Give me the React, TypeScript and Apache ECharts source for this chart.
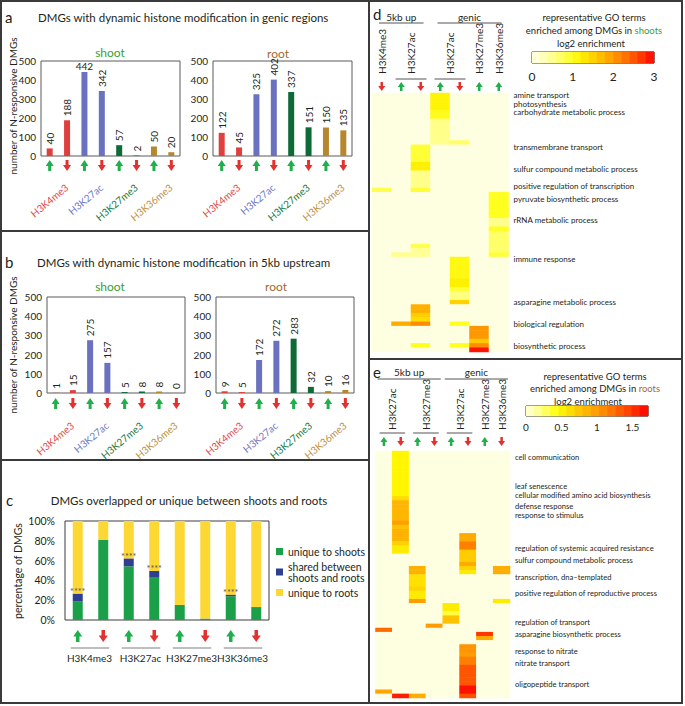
import React, { useEffect, useRef } from 'react';
import * as echarts from 'echarts';

const FONT = 'Lato, "Noto Sans", "DejaVu Sans", sans-serif';
const INK = '#231f20';
const FRAME = '#3a3a3a';
const ARROW_UP = '#20b04b';
const ARROW_DOWN = '#e2312e';

// ---------------- panels a & b : DMG counts ----------------
const marks = ['H3K4me3', 'H3K27ac', 'H3K27me3', 'H3K36me3'];
const markBarColors = ['#df3f3d', '#6a71bf', '#0e6b37', '#b7872f'];
const markTextColors = ['#e24c4a', '#6f78c6', '#1a7a43', '#c0913f'];
const slots = ['H3K4me3 up', 'H3K4me3 down', 'H3K27ac up', 'H3K27ac down', 'H3K27me3 up', 'H3K27me3 down', 'H3K36me3 up', 'H3K36me3 down'];
const slotDirs = ['up', 'down', 'up', 'down', 'up', 'down', 'up', 'down'];
const genicShoot = [40, 188, 442, 342, 57, 2, 50, 20];
const genicRoot = [122, 45, 325, 402, 337, 151, 150, 135];
const upstreamShoot = [1, 15, 275, 157, 5, 8, 8, 0];
const upstreamRoot = [9, 5, 172, 272, 283, 32, 10, 16];
const countMax = 500;
const countStep = 100;

// ---------------- panel c : overlap percentages ----------------
const uniqueToShoots = [18.6, 80.8, 54.2, 42.7, 15.2, 1.4, 24.0, 12.2];
const sharedShootsRoots = [7.8, 0, 7.8, 6.8, 0, 0, 1.4, 0.7];
const uniqueToRoots = [73.6, 19.2, 38.0, 50.5, 84.8, 98.6, 74.6, 87.1];
const significant = [true, false, true, true, false, false, true, false];
const pctMax = 100;
const pctStep = 20;

// ---------------- panel d : GO enrichment, shoots ----------------
const shootColumns = ['5kb H3K4me3 down', '5kb H3K27ac up', '5kb H3K27ac down', 'genic H3K27ac up', 'genic H3K27ac down', 'genic H3K27me3 up', 'genic H3K36me3 up'];
const shootColumnDirs = ['down', 'up', 'down', 'up', 'down', 'up', 'up'];
const shootHeaders = ['H3K4me3', 'H3K27ac', 'H3K27ac', 'H3K27me3', 'H3K36me3'];
const shootHeaderSpans = [[0, 0], [1, 2], [3, 4], [5, 5], [6, 6]];
const shootGroups = ['5kb up', 'genic'];
const shootGroupSpans = [[0, 2], [3, 6]];
const shootTerms = ['amine transport', 'photosynthesis', 'carbohydrate metabolic process', 'transmembrane transport', 'sulfur compound metabolic process', 'positive regulation of transcription', 'pyruvate biosynthetic process', 'rRNA metabolic process', 'immune response', 'asparagine metabolic process', 'biological regulation', 'biosynthetic process'];
const shootTermRows = [0, 2, 4, 12, 17, 21, 24, 29, 38, 48, 53, 58];
const shootRowCount = 60;
// [column, first row, last row, log2 enrichment]
const shootCells = [
  [0, 22, 22, 0.8],
  [1, 37, 37, 0.55], [1, 53, 53, 1.85],
  [2, 12, 15, 0.9], [2, 16, 17, 1.2], [2, 18, 21, 0.55], [2, 22, 22, 0.9], [2, 35, 35, 0.8], [2, 36, 37, 0.5],
  [2, 49, 50, 1.8], [2, 51, 51, 1.55], [2, 52, 52, 1.4], [2, 53, 53, 2.1], [2, 58, 58, 1.0],
  [3, 0, 3, 1.15], [3, 4, 5, 1.05], [3, 6, 11, 0.55],
  [4, 11, 11, 0.7], [4, 38, 42, 1.1], [4, 43, 44, 1.2], [4, 45, 45, 0.9], [4, 46, 47, 0.6], [4, 48, 48, 1.5], [4, 53, 53, 1.0], [4, 58, 58, 1.0],
  [5, 54, 56, 2.0], [5, 57, 57, 1.6], [5, 58, 58, 2.1], [5, 59, 59, 2.9],
  [6, 23, 28, 1.0], [6, 29, 30, 0.55], [6, 31, 31, 1.0], [6, 32, 36, 0.7], [6, 37, 37, 0.9],
];
const shootScaleMax = 3;
const shootScaleTick = 1;
const shootScaleColors = ['#fefee0', '#ffffd0', '#ffffa8', '#ffff80', '#ffff50', '#ffff20', '#fff000', '#ffdc00', '#ffc800', '#ffb000', '#ff9800', '#ff8000', '#ff6400', '#ff4800', '#ff2800', '#ff0000'];
const shootScaleSteps = [0.1, 0.3, 0.5, 0.7, 0.9, 1.1, 1.3, 1.5, 1.7, 1.9, 2.1, 2.3, 2.5, 2.7, 2.9];

// ---------------- panel e : GO enrichment, roots ----------------
const rootColumns = ['5kb H3K27ac up', '5kb H3K27ac down', '5kb H3K27me3 up', '5kb H3K27me3 down', 'genic H3K27ac up', 'genic H3K27ac down', 'genic H3K27me3 up', 'genic H3K36me3 down'];
const rootColumnDirs = ['up', 'down', 'up', 'down', 'up', 'down', 'up', 'down'];
const rootHeaders = ['H3K27ac', 'H3K27me3', 'H3K27ac', 'H3K27me3', 'H3K36me3'];
const rootHeaderSpans = [[0, 1], [2, 3], [4, 5], [6, 6], [7, 7]];
const rootGroups = ['5kb up', 'genic'];
const rootGroupSpans = [[0, 3], [4, 7]];
const rootTerms = ['cell communication', 'leaf senescence\ncellular modified amino acid biosynthesis', 'defense response\nresponse to stimulus', 'regulation of systemic acquired resistance', 'sulfur compound metabolic process', 'transcription, dna\u2013templated', 'positive regulation of reproductive process', 'regulation of transport', 'asparagine biosynthetic process', 'response to nitrate', 'nitrate transport', 'oligopeptide transport'];
const rootTermRows = [1, 9, 14, 23, 26, 30, 34, 41, 44, 48, 51, 56];
const rootRowCount = 60;
const rootCells = [
  [0, 43, 43, 1.25], [0, 58, 58, 0.95],
  [1, 0, 10, 0.5], [1, 11, 11, 0.62], [1, 12, 16, 0.85], [1, 17, 17, 0.98], [1, 18, 18, 0.78], [1, 19, 21, 0.87], [1, 22, 22, 0.68], [1, 23, 24, 0.55], [1, 59, 59, 1.6],
  [2, 28, 29, 0.88], [2, 30, 32, 0.6], [2, 33, 33, 0.68], [2, 34, 35, 0.55], [2, 36, 36, 1.0], [2, 59, 59, 0.9],
  [3, 42, 42, 1.0],
  [4, 37, 38, 0.55], [4, 39, 39, 0.35], [4, 40, 41, 0.78],
  [5, 20, 21, 0.92], [5, 22, 23, 1.15], [5, 24, 26, 0.72], [5, 27, 27, 0.92], [5, 28, 28, 0.68], [5, 29, 29, 0.55],
  [5, 47, 48, 1.05], [5, 49, 49, 1.0], [5, 50, 51, 1.15], [5, 52, 56, 1.35], [5, 57, 58, 1.65], [5, 59, 59, 1.38],
  [6, 44, 44, 1.5], [6, 45, 45, 0.92],
  [7, 28, 29, 0.9], [7, 36, 36, 0.55],
];
const rootScaleMax = 1.72;
const rootScaleTick = 0.5;
const rootScaleColors = ['#fefee0', '#ffffb0', '#ffff80', '#ffff40', '#ffff00', '#ffe600', '#ffd200', '#ffbe00', '#ffaa00', '#ff9600', '#ff8000', '#ff6800', '#ff5000', '#ff3800', '#ff1c00', '#ff0000'];
const rootScaleSteps = [0.06, 0.17, 0.29, 0.4, 0.52, 0.63, 0.75, 0.86, 0.98, 1.09, 1.2, 1.32, 1.43, 1.55, 1.66];

// ---------------- helpers ----------------
function buildMatrix(nCols: number, nRows: number, cells: number[][]) {
  const grid: number[][] = [];
  for (let c = 0; c < nCols; c++) {
    for (let r = 0; r < nRows; r++) grid.push([c, r, 0]);
  }
  cells.forEach(([c, r0, r1, v]) => {
    for (let r = r0; r <= r1; r++) grid[c * nRows + r][2] = v;
  });
  return grid;
}

function rowLabels(terms: string[], rows: number[], n: number) {
  const arr: string[] = new Array(n).fill('');
  rows.forEach((r, i) => { arr[r] = terms[i]; });
  return arr;
}

function arrow(cx: number, top: number, w: number, h: number, headH: number, shaft: number, dir: string) {
  let pts: number[][];
  if (dir === 'up') {
    pts = [[cx, top], [cx + w / 2, top + headH], [cx + shaft / 2, top + headH], [cx + shaft / 2, top + h], [cx - shaft / 2, top + h], [cx - shaft / 2, top + headH], [cx - w / 2, top + headH]];
  } else {
    const b = top + h;
    pts = [[cx, b], [cx + w / 2, b - headH], [cx + shaft / 2, b - headH], [cx + shaft / 2, top], [cx - shaft / 2, top], [cx - shaft / 2, b - headH], [cx - w / 2, b - headH]];
  }
  return { type: 'polygon', shape: { points: pts }, style: { fill: dir === 'up' ? ARROW_UP : ARROW_DOWN } };
}

function txt(x: number, y: number, text: string, o: any = {}) {
  const align = o.align || 'left';
  const v = o.v || 'middle';
  return {
    type: 'text', x, y, rotation: o.rotation || 0, silent: true,
    style: {
      text, fill: o.color || INK, fontSize: o.size || 10, fontFamily: FONT,
      align, textAlign: align, verticalAlign: v, textVerticalAlign: v,
      rich: o.rich,
    },
  };
}

function hline(x1: number, x2: number, y: number, color = FRAME, lw = 2) {
  return { type: 'line', silent: true, shape: { x1, y1: y, x2, y2: y }, style: { stroke: color, lineWidth: lw } };
}
function vline(x: number, y1: number, y2: number, color = FRAME, lw = 2) {
  return { type: 'line', silent: true, shape: { x1: x, y1, x2: x, y2 }, style: { stroke: color, lineWidth: lw } };
}

// grids
const G = {
  aShoot: { left: 41, top: 61, width: 139, height: 95 },
  aRoot: { left: 213, top: 61, width: 139, height: 95 },
  bShoot: { left: 47, top: 297, width: 138, height: 96 },
  bRoot: { left: 216, top: 297, width: 138, height: 96 },
  c: { left: 65, top: 521, width: 204, height: 99 },
  d: { left: 372, top: 93, width: 136.5, height: 259 },
  e: { left: 375.5, top: 451, width: 134.5, height: 247 },
  dBar: { left: 532, top: 52, width: 122, height: 11 },
  eBar: { left: 526, top: 406, width: 122, height: 10 },
};

function countAxis(gi: number) {
  return {
    type: 'value', gridIndex: gi, min: 0, max: countMax, interval: countStep,
    axisLine: { show: false }, axisTick: { show: false }, splitLine: { show: false },
    axisLabel: { fontSize: 10, color: INK, margin: 5, fontFamily: FONT },
  };
}

function countSeries(gi: number, values: number[]) {
  return {
    type: 'bar', xAxisIndex: gi, yAxisIndex: gi, barWidth: 6, silent: true,
    data: values.map((v, i) => {
      const item: any = { value: v, itemStyle: { color: markBarColors[Math.floor(i / 2)] } };
      if (v > 420) item.label = { rotate: 0, align: 'center', verticalAlign: 'bottom', distance: 1 };
      return item;
    }),
    label: { show: true, position: 'top', rotate: 90, align: 'left', verticalAlign: 'middle', distance: 4, fontSize: 10, color: INK, fontFamily: FONT },
  };
}

function countAnnotations(gi: number, arrowGap: number) {
  return {
    type: 'custom', xAxisIndex: gi, yAxisIndex: gi, silent: true, z: 5,
    data: slotDirs.map((d, i) => [i, 0]),
    renderItem: (params: any, api: any) => {
      const i = params.dataIndex;
      const p = api.coord([api.value(0), 0]);
      const top = p[1] + arrowGap;
      const children: any[] = [arrow(p[0], top, 8, 11, 6, 3, slotDirs[i])];
      if (i % 2 === 1) {
        const q = api.coord([i - 1, 0]);
        const cx = (p[0] + q[0]) / 2;
        const m = (i - 1) / 2;
        children.push(txt(cx + 5, top + 22, marks[m], { color: markTextColors[m], size: 10, align: 'right', v: 'top', rotation: (40 * Math.PI) / 180 }));
      }
      return { type: 'group', children };
    },
  };
}

function pctAnnotations(gi: number) {
  return {
    type: 'custom', xAxisIndex: gi, yAxisIndex: gi, silent: true, z: 5,
    data: slotDirs.map((d, i) => [i, 0]),
    renderItem: (params: any, api: any) => {
      const i = params.dataIndex;
      const p = api.coord([api.value(0), 0]);
      const children: any[] = [arrow(p[0], p[1] + 10, 9, 12, 6.5, 3.5, slotDirs[i])];
      if (i % 2 === 1) {
        const q = api.coord([i - 1, 0]);
        const cx = (p[0] + q[0]) / 2;
        const y = p[1] + 28;
        children.push({ type: 'line', shape: { x1: q[0] - 7, y1: y, x2: p[0] + 6, y2: y }, style: { stroke: '#a8a8a8', lineWidth: 1.5 } });
        children.push(txt(cx - 1, y + 10, marks[(i - 1) / 2], { size: 10, align: 'center' }));
      }
      return { type: 'group', children };
    },
  };
}

function heatAnnotations(gi: number, nCols: number, dirs: string[], headers: string[], headerSpans: number[][], groups: string[], groupSpans: number[][], cfg: any) {
  return {
    type: 'custom', xAxisIndex: gi, yAxisIndex: gi, silent: true, z: 5,
    data: dirs.map((d, i) => [i, 0]),
    renderItem: (params: any, api: any) => {
      const i = params.dataIndex;
      const cs = params.coordSys;
      const cw = cs.width / nCols;
      const top = cs.y;
      const cx = api.coord([i, 0])[0];
      const children: any[] = [arrow(cx, top - cfg.arrowUp, 7, 9, 5, 2.5, dirs[i])];
      headerSpans.forEach((s, h) => {
        if (s[0] !== i) return;
        const x0 = api.coord([s[0], 0])[0];
        const x1 = api.coord([s[1], 0])[0];
        const mid = (x0 + x1) / 2;
        children.push(txt(mid, top - cfg.headerUp, headers[h], { size: 10, align: 'left', v: 'middle', rotation: Math.PI / 2 }));
        if (s[1] !== s[0]) {
          children.push({ type: 'line', shape: { x1: x0 - cw / 2 + 4, y1: top - cfg.bracketUp, x2: x1 + cw / 2 - 4, y2: top - cfg.bracketUp }, style: { stroke: '#555', lineWidth: 1 } });
        }
      });
      groupSpans.forEach((s, g) => {
        if (s[0] !== i) return;
        const x0 = api.coord([s[0], 0])[0] - cw / 2;
        const x1 = api.coord([s[1], 0])[0] + cw / 2;
        children.push(txt((x0 + x1) / 2, top - cfg.groupUp, groups[g], { size: 10, align: 'center' }));
        children.push({ type: 'line', shape: { x1: x0 + cfg.inset, y1: top - cfg.lineUp, x2: x1 - cfg.inset, y2: top - cfg.lineUp }, style: { stroke: '#555', lineWidth: 1 } });
      });
      return { type: 'group', children };
    },
  };
}

function buildOption() {
  const boxed = { show: true, borderColor: '#5a5a5a', borderWidth: 1, backgroundColor: 'transparent' };
  const grids = [
    { ...G.aShoot, ...boxed },
    { ...G.aRoot, ...boxed },
    { ...G.bShoot, ...boxed },
    { ...G.bRoot, ...boxed },
    { ...G.c, ...boxed, borderColor: '#3a3a3a' },
    { ...G.d, show: false },
    { ...G.e, show: false },
    { ...G.dBar, show: true, borderColor: '#000', borderWidth: 1 },
    { ...G.eBar, show: true, borderColor: '#000', borderWidth: 1 },
  ];
  const hiddenCat = (gi: number, data: any[]) => ({ type: 'category', gridIndex: gi, data, show: false });
  const xAxis = [
    hiddenCat(0, slots), hiddenCat(1, slots), hiddenCat(2, slots), hiddenCat(3, slots), hiddenCat(4, slots),
    hiddenCat(5, shootColumns), hiddenCat(6, rootColumns),
    hiddenCat(7, shootScaleSteps),
    {
      type: 'value', gridIndex: 7, min: 0, max: shootScaleMax, interval: shootScaleTick, position: 'bottom',
      axisLine: { show: false }, axisTick: { show: false }, splitLine: { show: false },
      axisLabel: { fontSize: 12, color: INK, margin: 7, fontFamily: FONT },
    },
    hiddenCat(8, rootScaleSteps),
    {
      type: 'value', gridIndex: 8, min: 0, max: rootScaleMax, interval: rootScaleTick, position: 'bottom',
      axisLine: { show: false }, axisTick: { show: false }, splitLine: { show: false },
      axisLabel: {
        fontSize: 10, color: INK, margin: 6, fontFamily: FONT,
        formatter: (v: number) => (Math.abs(v / rootScaleTick - Math.round(v / rootScaleTick)) < 1e-6 ? String(v) : ''),
      },
    },
  ];
  const rowAxis = (gi: number, data: string[], size: number, lh: number) => ({
    type: 'category', gridIndex: gi, data, inverse: true, position: 'right',
    axisLine: { show: false }, axisTick: { show: false }, splitLine: { show: false },
    axisLabel: { interval: 0, fontSize: size, lineHeight: lh, color: INK, margin: 5, fontFamily: FONT },
  });
  const yAxis = [
    countAxis(0), countAxis(1), countAxis(2), countAxis(3),
    {
      type: 'value', gridIndex: 4, min: 0, max: pctMax, interval: pctStep,
      axisLine: { show: false }, axisTick: { show: false }, splitLine: { show: false },
      axisLabel: { fontSize: 10.5, color: INK, margin: 10, fontFamily: FONT, formatter: '{value}%' },
    },
    rowAxis(5, rowLabels(shootTerms, shootTermRows, shootRowCount), 8, 8),
    rowAxis(6, rowLabels(rootTerms, rootTermRows, rootRowCount), 7.6, 9),
    { type: 'category', gridIndex: 7, data: ['scale'], show: false },
    { type: 'category', gridIndex: 8, data: ['scale'], show: false },
  ];

  const series: any[] = [
    countSeries(0, genicShoot),
    countSeries(1, genicRoot),
    countSeries(2, upstreamShoot),
    countSeries(3, upstreamRoot),
    { type: 'bar', name: 'unique to shoots', stack: 'pct', xAxisIndex: 4, yAxisIndex: 4, barWidth: 10, silent: true, itemStyle: { color: '#1ba049' }, data: uniqueToShoots },
    {
      type: 'bar', name: 'shared between\nshoots and roots', stack: 'pct', xAxisIndex: 4, yAxisIndex: 4, barWidth: 10, silent: true, z: 3,
      itemStyle: { color: '#2e3f92' }, data: sharedShootsRoots,
      label: { show: true, position: 'top', distance: -2, fontSize: 9, color: '#555', fontFamily: FONT, formatter: (p: any) => (significant[p.dataIndex] ? '****' : '') },
    },
    { type: 'bar', name: 'unique to roots', stack: 'pct', xAxisIndex: 4, yAxisIndex: 4, barWidth: 10, silent: true, itemStyle: { color: '#fdd835' }, data: uniqueToRoots },
    { type: 'heatmap', xAxisIndex: 5, yAxisIndex: 5, silent: true, progressive: 0, emphasis: { disabled: true }, data: buildMatrix(shootColumns.length, shootRowCount, shootCells) },
    { type: 'heatmap', xAxisIndex: 6, yAxisIndex: 6, silent: true, progressive: 0, emphasis: { disabled: true }, data: buildMatrix(rootColumns.length, rootRowCount, rootCells) },
    { type: 'heatmap', xAxisIndex: 7, yAxisIndex: 7, silent: true, emphasis: { disabled: true }, data: shootScaleSteps.map((v, i) => [i, 0, v]) },
    { type: 'heatmap', xAxisIndex: 9, yAxisIndex: 8, silent: true, emphasis: { disabled: true }, data: rootScaleSteps.map((v, i) => [i, 0, v]) },
    countAnnotations(0, 4),
    countAnnotations(1, 4),
    countAnnotations(2, 5),
    countAnnotations(3, 5),
    pctAnnotations(4),
    heatAnnotations(5, shootColumns.length, shootColumnDirs, shootHeaders, shootHeaderSpans, shootGroups, shootGroupSpans,
      { arrowUp: 11, headerUp: 19, bracketUp: 14, groupUp: 76, lineUp: 70, inset: 7 }),
    heatAnnotations(6, rootColumns.length, rootColumnDirs, rootHeaders, rootHeaderSpans, rootGroups, rootGroupSpans,
      { arrowUp: 14, headerUp: 21, bracketUp: 18, groupUp: 79, lineUp: 72, inset: 2 }),
  ];

  const graphics: any[] = [
    { type: 'rect', silent: true, shape: { x: 1, y: 1, width: 681, height: 702 }, style: { fill: 'none', stroke: FRAME, lineWidth: 2 } },
    vline(369, 1, 703),
    hline(1, 369, 231),
    hline(1, 369, 460),
    hline(369, 682, 359),
    // panel a
    txt(5, 17, 'a', { size: 15 }),
    txt(38, 17, 'DMGs with dynamic histone modification in genic regions', { size: 11.5 }),
    txt(110, 52, 'shoot', { size: 12, color: '#3a9e35', align: 'center' }),
    txt(278, 53, 'root', { size: 12, color: '#a4692e', align: 'center' }),
    txt(13, 106, 'number of N-responsive DMGs', { size: 10, align: 'center', rotation: Math.PI / 2 }),
    // panel b
    txt(5, 262, 'b', { size: 15 }),
    txt(37, 262, 'DMGs with dynamic histone modification in 5kb upstream', { size: 11.5 }),
    txt(110, 286, 'shoot', { size: 12, color: '#3a9e35', align: 'center' }),
    txt(276, 286, 'root', { size: 12, color: '#a4692e', align: 'center' }),
    txt(13, 345, 'number of N-responsive DMGs', { size: 10, align: 'center', rotation: Math.PI / 2 }),
    // panel c
    txt(6, 500, 'c', { size: 15 }),
    txt(189, 500, 'DMGs overlapped or unique between shoots and roots', { size: 11.5, align: 'center' }),
    txt(18, 571, 'percentage of DMGs', { size: 10.5, align: 'center', rotation: Math.PI / 2 }),
    // panel d
    txt(373, 14, 'd', { size: 15 }),
    txt(594, 17, 'representative GO terms', { size: 9.5, align: 'center' }),
    txt(594, 30, 'enriched among DMGs in {g|shoots}', { size: 9.5, align: 'center', rich: { g: { fill: '#3a9e35', color: '#3a9e35', fontSize: 9.5, fontFamily: FONT } } }),
    txt(591, 43, 'log2 enrichment', { size: 9.5, align: 'center' }),
    // panel e
    txt(373, 372, 'e', { size: 15 }),
    txt(595, 376, 'representative GO terms', { size: 9.5, align: 'center' }),
    txt(595, 388, 'enriched among DMGs in {r|roots}', { size: 9.5, align: 'center', rich: { r: { fill: '#a4692e', color: '#a4692e', fontSize: 9.5, fontFamily: FONT } } }),
    txt(588, 401, 'log2 enrichment', { size: 9.5, align: 'center' }),
  ];

  return {
    animation: false,
    backgroundColor: '#ffffff',
    textStyle: { fontFamily: FONT },
    grid: grids,
    xAxis,
    yAxis,
    visualMap: [
      { type: 'continuous', show: false, min: 0, max: shootScaleMax, seriesIndex: [7, 9], dimension: 2, inRange: { color: shootScaleColors } },
      { type: 'continuous', show: false, min: 0, max: rootScaleMax, seriesIndex: [8, 10], dimension: 2, inRange: { color: rootScaleColors } },
    ],
    legend: {
      orient: 'vertical', left: 271, top: 541, itemWidth: 7, itemHeight: 7, itemGap: 4, icon: 'rect', selectedMode: false,
      textStyle: { fontSize: 10.5, color: INK, fontFamily: FONT, lineHeight: 11 },
      data: ['unique to shoots', 'shared between\nshoots and roots', 'unique to roots'],
    },
    series,
    graphic: { elements: graphics },
  };
}

export default function App() {
  const ref = useRef<HTMLDivElement>(null);
  useEffect(() => {
    if (!ref.current) return;
    const chart = echarts.init(ref.current, null, { renderer: 'svg' });
    chart.setOption(buildOption() as any);
    return () => chart.dispose();
  }, []);
  return <div ref={ref} style={{ position: 'fixed', left: 0, top: 0, width: 685, height: 706, background: '#fff' }} />;
}
